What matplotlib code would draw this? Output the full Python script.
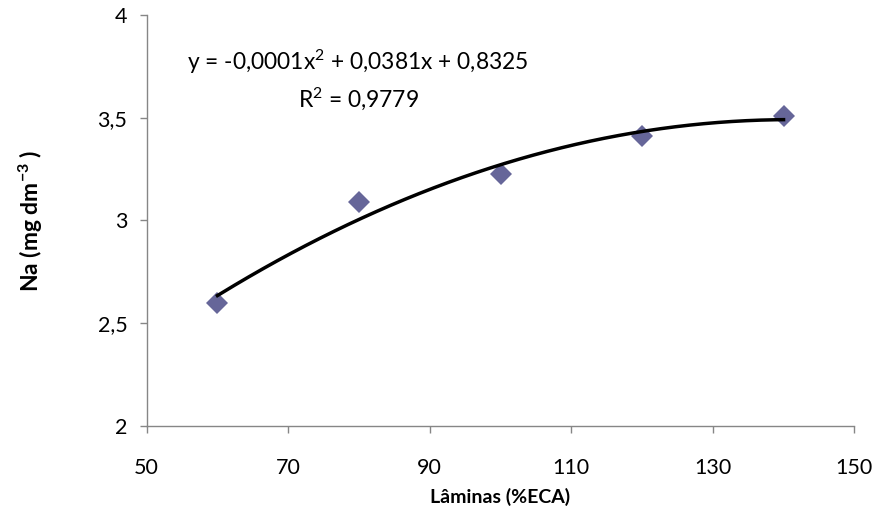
import numpy as np
import matplotlib
matplotlib.use('Agg')
import matplotlib.pyplot as plt
from matplotlib.ticker import FuncFormatter

plt.rcParams['font.family'] = ['Lato', 'DejaVu Sans']
plt.rcParams['mathtext.fontset'] = 'custom'
plt.rcParams['mathtext.rm'] = 'Lato'
plt.rcParams['mathtext.it'] = 'Lato:italic'
plt.rcParams['mathtext.bf'] = 'Lato:bold'

# data
laminas = [60, 80, 100, 120, 140]
na = [2.60, 3.09, 3.225, 3.41, 3.51]
x_ticks = [50, 70, 90, 110, 130, 150]
y_ticks = [2, 2.5, 3, 3.5, 4]

eq_text = r"y = -0,0001x$^2$ + 0,0381x + 0,8325"
r2_text = r"R$^2$ = 0,9779"

grey = '#868686'

fig = plt.figure(figsize=(8.78, 5.28), dpi=100)
ax = fig.add_axes([0.1671, 0.1932, 0.8059, 0.7784])

# quadratic trend line (as excel does)
coef = np.polyfit(laminas, na, 2)
xs = np.linspace(min(laminas), max(laminas), 200)
ax.plot(xs, np.polyval(coef, xs), color='black', lw=2.5, zorder=3)
ax.plot(laminas, na, ls='none', marker='D', ms=11.5, color='#666699',
        markeredgewidth=0, zorder=2)

ax.set_xlim(50, 150)
ax.set_ylim(2, 4)
ax.set_xticks(x_ticks)
ax.set_yticks(y_ticks)
ax.yaxis.set_major_formatter(FuncFormatter(lambda v, p: f'{v:g}'.replace('.', ',')))

for s in ['top', 'right']:
    ax.spines[s].set_visible(False)
for s in ['left', 'bottom']:
    ax.spines[s].set_color(grey)
    ax.spines[s].set_linewidth(1)
ax.tick_params(direction='out', length=5, width=1, color=grey, labelsize=15.5)
ax.tick_params(axis='y', pad=9)
ax.tick_params(axis='x', pad=18)

ax.set_xlabel('Lâminas (%ECA)', fontsize=14, fontweight='bold', labelpad=7)
ax.set_ylabel(r'Na (mg dm$^{\mathbf{-3}}$ )', fontsize=16.5, fontweight='bold', labelpad=38)

fig.text(187 / 878, 1 - 62 / 528, eq_text, fontsize=16.4, ha='left', va='center')
fig.text(358 / 878, 1 - 99 / 528, r2_text, fontsize=16.4, ha='center', va='center')

fig.savefig('out.png', dpi=100)
